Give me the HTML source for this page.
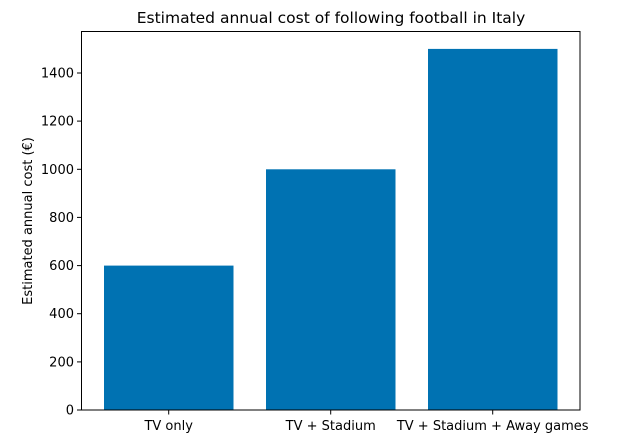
<!DOCTYPE html>
<html><head><style>body{margin:0;background:#fff}svg{display:block}</style></head>
<body>
<svg width="637" height="437" xmlns="http://www.w3.org/2000/svg" font-family="DejaVu Sans, Liberation Sans, sans-serif" font-size="13" fill="#000">
<rect width="637" height="437" fill="#fff"/>
<g fill="#0072b2">
<rect x="104" y="265.6" width="129.5" height="144.4"/>
<rect x="266" y="169.3" width="129.5" height="240.7"/>
<rect x="428" y="48.9" width="129.5" height="361.1"/>
</g>
<rect x="81.5" y="31.5" width="498.5" height="378.5" fill="none" stroke="#000" stroke-width="1"/>
<g stroke="#000" stroke-width="1">
<line x1="77" x2="81.5" y1="410" y2="410"/>
<line x1="77" x2="81.5" y1="361.9" y2="361.9"/>
<line x1="77" x2="81.5" y1="313.7" y2="313.7"/>
<line x1="77" x2="81.5" y1="265.6" y2="265.6"/>
<line x1="77" x2="81.5" y1="217.4" y2="217.4"/>
<line x1="77" x2="81.5" y1="169.3" y2="169.3"/>
<line x1="77" x2="81.5" y1="121.1" y2="121.1"/>
<line x1="77" x2="81.5" y1="73" y2="73"/>
<line x1="168.7" x2="168.7" y1="410" y2="414.5"/>
<line x1="330.7" x2="330.7" y1="410" y2="414.5"/>
<line x1="492.7" x2="492.7" y1="410" y2="414.5"/>
</g>
<g text-anchor="end">
<text x="74" y="414.5">0</text>
<text x="74" y="366.4">200</text>
<text x="74" y="318.2">400</text>
<text x="74" y="270.1">600</text>
<text x="74" y="221.9">800</text>
<text x="74" y="173.8">1000</text>
<text x="74" y="125.6">1200</text>
<text x="74" y="77.5">1400</text>
</g>
<g text-anchor="middle">
<text x="168.7" y="430">TV only</text>
<text x="330.7" y="430">TV + Stadium</text>
<text x="492.7" y="430">TV + Stadium + Away games</text>
<text x="331" y="23" font-size="15.5">Estimated annual cost of following football in Italy</text>
<text transform="translate(32,221) rotate(-90)">Estimated annual cost (€)</text>
</g>
</svg>
</body></html>
